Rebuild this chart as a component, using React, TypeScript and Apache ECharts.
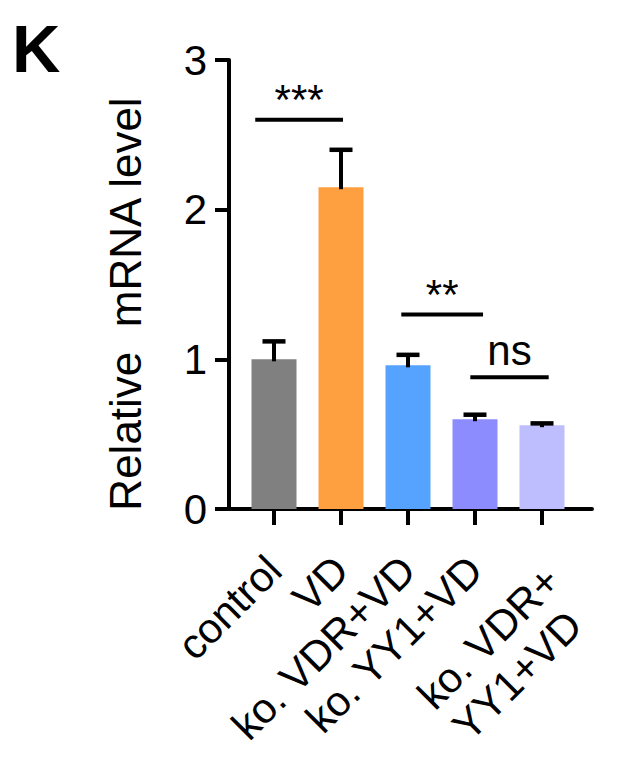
import React, { useEffect, useRef } from "react";
import * as echarts from "echarts";

// Groups along the x axis
const categories = ["control", "VD", "ko. VDR+VD", "ko. YY1+VD", "ko. VDR+\nYY1+VD"];
// Mean relative mRNA level and upper error (SEM) per group
const meanValues = [1.0, 2.15, 0.96, 0.6, 0.56];
const errorValues = [0.12, 0.25, 0.07, 0.03, 0.012];
const barColors = ["#808080", "#ffa040", "#55a3ff", "#8c8cff", "#bebeff"];
// Y axis ticks
const yTicks = [0, 1, 2, 3];
// Significance brackets: start / end in category units, height, label
const sigFrom = [-0.28, 1.9, 2.93];
const sigTo = [1.03, 3.12, 4.1];
const sigLevel = [2.6, 1.3, 0.88];
const sigText = ["***", "**", "ns"];

const FONT = "'Liberation Sans', Arial, Helvetica, sans-serif";
const LABEL_SIZE = 42;

export default function App() {
  const ref = useRef<HTMLDivElement>(null);

  useEffect(() => {
    document.body.style.margin = "0";
    if (!ref.current) return;
    const chart = echarts.init(ref.current, undefined, { renderer: "svg" });

    const yMin = yTicks[0];
    const yMax = yTicks[yTicks.length - 1];

    // two-line labels hang below their tick instead of centring on it
    const categoryData = categories.map((c) =>
      c.includes("\n") ? { value: c, textStyle: { verticalAlign: "top" } } : c
    );

    // left-aligned look for the stacked label: the shorter second line is padded on its right
    const labelFormatter = (v: string) => {
      if (!v.includes("\n")) return v;
      const [first, second] = v.split("\n");
      return `{first|${first}}\n{second|${second}}`;
    };

    const option: any = {
      animation: false,
      backgroundColor: "#ffffff",
      grid: [
        // frame holding the visible axes
        { left: 229, top: 60, width: 363, height: 449 },
        // plotting area for the bars
        { left: 240.5, top: 60, width: 335, height: 449 },
      ],
      xAxis: [
        {
          type: "value",
          gridIndex: 0,
          min: 0,
          max: 1,
          axisLine: { show: true, lineStyle: { color: "#000", width: 4 } },
          axisTick: { show: false },
          axisLabel: { show: false },
          splitLine: { show: false },
        },
        {
          type: "category",
          gridIndex: 1,
          data: categoryData,
          boundaryGap: true,
          axisLine: { show: false },
          axisTick: {
            show: true,
            alignWithLabel: true,
            length: 16,
            lineStyle: { color: "#000", width: 4 },
          },
          axisLabel: {
            rotate: 45,
            interval: 0,
            margin: 54,
            fontSize: LABEL_SIZE,
            fontFamily: FONT,
            color: "#000",
            formatter: labelFormatter,
            rich: {
              first: {
                fontSize: LABEL_SIZE,
                fontFamily: FONT,
                color: "#000",
                lineHeight: 30,
              },
              second: {
                fontSize: LABEL_SIZE,
                fontFamily: FONT,
                color: "#000",
                lineHeight: 64,
                padding: [0, 16, 0, 0],
              },
            },
          },
        },
      ],
      yAxis: [
        {
          type: "value",
          gridIndex: 0,
          min: yMin,
          max: yMax,
          interval: 1,
          axisLine: { show: true, lineStyle: { color: "#000", width: 4 } },
          axisTick: { show: true, length: 14, lineStyle: { color: "#000", width: 4 } },
          axisLabel: { fontSize: 42, fontFamily: FONT, color: "#000", margin: 22 },
          splitLine: { show: false },
        },
        {
          type: "value",
          gridIndex: 1,
          min: yMin,
          max: yMax,
          interval: 1,
          show: false,
        },
      ],
      series: [
        {
          type: "bar",
          xAxisIndex: 1,
          yAxisIndex: 1,
          barWidth: 45,
          data: meanValues.map((v, i) => ({ value: v, itemStyle: { color: barColors[i] } })),
        },
        {
          type: "custom",
          xAxisIndex: 1,
          yAxisIndex: 1,
          encode: { x: 0, y: [1, 2] },
          data: meanValues.map((v, i) => [i, v, v + errorValues[i]]),
          renderItem: (params: any, api: any) => {
            const base = api.coord([api.value(0), api.value(1)]);
            const top = api.coord([api.value(0), api.value(2)]);
            const half = 11.5;
            return {
              type: "group",
              children: [
                {
                  type: "line",
                  shape: { x1: top[0], y1: top[1], x2: base[0], y2: base[1] + 2 },
                  style: { stroke: "#000", lineWidth: 4 },
                },
                {
                  type: "line",
                  shape: { x1: top[0] - half, y1: top[1], x2: top[0] + half, y2: top[1] },
                  style: { stroke: "#000", lineWidth: 4.5 },
                },
              ],
            };
          },
          z: 3,
        },
        {
          type: "custom",
          xAxisIndex: 1,
          yAxisIndex: 1,
          data: sigLevel.map((v) => [0, v]),
          renderItem: (params: any, api: any) => {
            const idx = params.dataIndex;
            const origin = api.coord([0, api.value(1)]);
            const band = api.size([1, 0])[0];
            const x1 = origin[0] + sigFrom[idx] * band;
            const x2 = origin[0] + sigTo[idx] * band;
            const y = origin[1];
            const isNs = sigText[idx] === "ns";
            return {
              type: "group",
              children: [
                {
                  type: "line",
                  shape: { x1, y1: y, x2, y2: y },
                  style: { stroke: "#000", lineWidth: 4 },
                },
                {
                  type: "text",
                  x: (x1 + x2) / 2,
                  y: isNs ? y - 27 : y - 20,
                  style: {
                    text: sigText[idx],
                    fontSize: 42,
                    fontFamily: FONT,
                    fill: "#000",
                    align: "center",
                    verticalAlign: "middle",
                  },
                },
              ],
            };
          },
          z: 4,
        },
      ],
      graphic: [
        {
          type: "text",
          x: 12,
          y: 48.5,
          style: {
            text: "K",
            fontSize: 67,
            fontWeight: "bold",
            fontFamily: FONT,
            fill: "#000",
            align: "left",
            verticalAlign: "middle",
          },
        },
        {
          type: "text",
          x: 125,
          y: 304,
          rotation: Math.PI / 2,
          style: {
            text: "Relative  mRNA level",
            fontSize: 44,
            fontFamily: FONT,
            fill: "#000",
            align: "center",
            verticalAlign: "middle",
          },
        },
      ],
    };

    chart.setOption(option);
    return () => chart.dispose();
  }, []);

  return <div ref={ref} style={{ width: 625, height: 759 }} />;
}
